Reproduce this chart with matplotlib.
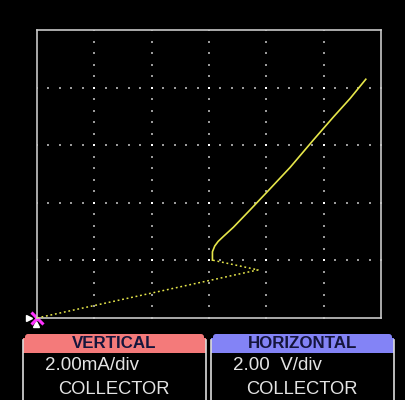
import numpy as np
from matplotlib import pyplot as plt
from matplotlib.patches import Rectangle, FancyBboxPatch

# curve tracer trace: collector voltage (V) vs collector current (mA)
sweep_v = [0.0, 7.71, 6.12]
sweep_ma = [0.0, 1.67, 2.01]
curve_v = [6.12, 6.12, 6.20, 6.32, 6.50, 6.85, 7.43, 8.01, 8.83, 9.64, 10.34, 10.92, 11.47]
curve_ma = [2.01, 2.30, 2.50, 2.66, 2.83, 3.15, 3.75, 4.36, 5.23, 6.18, 6.98, 7.62, 8.29]

v_per_div = 2.0
ma_per_div = 2.0
n_xdiv = 6
n_ydiv = 5

panel_titles = ["VERTICAL", "HORIZONTAL"]
panel_scales = ["2.00mA/div", "2.00  V/div"]
panel_sources = ["COLLECTOR", "COLLECTOR"]
panel_colors = ["#f47a7a", "#8383f6"]

W, H = 406, 400
fig = plt.figure(figsize=(W / 100, H / 100), dpi=100, facecolor="black")

# overlay in pixel coords for the readout panels
bg = fig.add_axes([0, 0, 1, 1])
bg.set_xlim(0, W)
bg.set_ylim(H, 0)
bg.axis("off")
bg.set_facecolor("black")

ax = fig.add_axes([37 / W, 82 / H, 344 / W, 288 / H])
ax.set_facecolor("black")
xmax = n_xdiv * v_per_div
ymax = n_ydiv * ma_per_div
ax.set_xlim(0, xmax)
ax.set_ylim(0, ymax)
ax.set_xticks([])
ax.set_yticks([])
for s in ax.spines.values():
    s.set_color("#c8c8c8")
    s.set_linewidth(1.2)

# dotted graticule, 5 minor dots per division
gx, gy = [], []
for i in range(1, n_ydiv):
    xs = np.arange(0, xmax + 1e-9, v_per_div / 5)
    gx += list(xs)
    gy += [i * ma_per_div] * len(xs)
for i in range(1, n_xdiv):
    ys = np.arange(0, ymax + 1e-9, ma_per_div / 5)
    gx += list(ys * 0 + i * v_per_div)
    gy += list(ys)
ax.scatter(gx, gy, s=1.1, color="#9a9a9a", marker="s", linewidths=0, zorder=1)
cx = [i * v_per_div for i in range(1, n_xdiv) for j in range(1, n_ydiv)]
cy = [j * ma_per_div for i in range(1, n_xdiv) for j in range(1, n_ydiv)]
ax.scatter(cx, cy, s=4, color="white", marker="s", linewidths=0, zorder=1)

# trace
ax.plot(sweep_v, sweep_ma, color="#e6e64a", lw=1.1, ls=(0, (1.2, 1.8)), zorder=3)
ax.plot(curve_v, curve_ma, color="#e6e64a", lw=1.2, zorder=3)

# cursor at origin
bg.plot([29.5], [317.5], marker=">", color="white", ms=5, zorder=5)
bg.plot([36], [324], marker="^", color="white", ms=5, zorder=5)
bg.plot([37.5], [317.5], marker="x", color="#ff33ff", ms=8, mew=2.2, zorder=6)

# readout panels
lefts = [23, 211]
pw = 183
for k in range(2):
    x0 = lefts[k]
    bg.add_patch(FancyBboxPatch((x0 + 2, 334), pw - 4, 19, boxstyle="round,pad=0,rounding_size=3",
                                facecolor=panel_colors[k], edgecolor="none"))
    bg.add_patch(Rectangle((x0, 338), pw, 15, facecolor=panel_colors[k], edgecolor="none"))
    bg.plot([x0, x0], [340, H], color="#dcdcdc", lw=1.2)
    bg.plot([x0 + pw, x0 + pw], [340, H], color="#dcdcdc", lw=1.2)
    bg.text(x0 + pw / 2, 343, panel_titles[k], ha="center", va="center",
            family="Liberation Sans", weight="bold", fontsize=12.2, color="#15153c")
    bg.text(x0 + 22, 366, panel_scales[k], ha="left", va="center",
            family="Liberation Sans", fontsize=13.5, color="#e4e4e4")
    bg.text(x0 + 35, 390, panel_sources[k], ha="left", va="center",
            family="Liberation Sans", fontsize=13.2, color="#e4e4e4")

fig.savefig("out.png", dpi=100, facecolor="black")
